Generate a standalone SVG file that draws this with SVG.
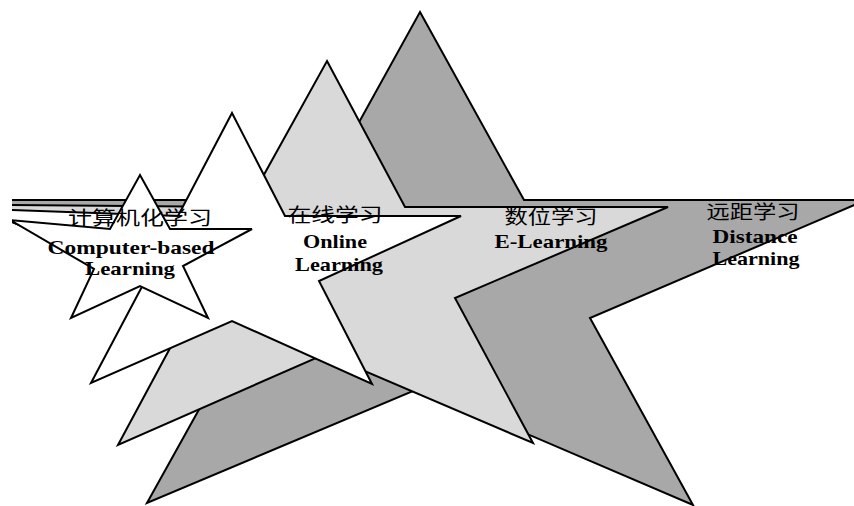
<svg xmlns="http://www.w3.org/2000/svg" width="854" height="506" viewBox="0 0 854 506">
<defs>
<clipPath id="edge"><rect x="12" y="0" width="842" height="506"/></clipPath>
</defs>
<style>
.star{stroke:#000;stroke-width:2;stroke-linejoin:miter;stroke-miterlimit:4}
.s4{fill:#a8a8a8}
.s3{fill:#d9d9d9}
.s2,.s1{fill:#fff}
.cn{font-family:"Noto Sans CJK SC","Noto Sans CJK TC",sans-serif;font-size:19px;fill:#000;text-anchor:middle}
.en{font-family:"Liberation Serif","DejaVu Serif",serif;font-weight:bold;font-size:19px;fill:#000;text-anchor:middle}
</style>
<rect x="0" y="0" width="854" height="506" fill="#fff"/>
<g id="connectors"></g>
<g id="distance-learning">
<polygon class="star s4" clip-path="url(#edge)" points="420,12 524,200 866,200 590,318 693,505 420,388 147,503 251,316 10,221 10,200 316,200"/>
<text class="cn" x="753" y="219" textLength="93" lengthAdjust="spacingAndGlyphs">远距学习</text>
<text class="en" x="755" y="243" textLength="85" lengthAdjust="spacingAndGlyphs">Distance</text>
<text class="en" x="756" y="265" textLength="87" lengthAdjust="spacingAndGlyphs">Learning</text>
</g>
<g id="e-learning">
<polygon class="star s3" clip-path="url(#edge)" points="327,61 405,207 668,207 455,298 533,443 325,354 118,445 197,298 10,221 10,205 246,207"/>
<text class="cn" x="551" y="224" textLength="93" lengthAdjust="spacingAndGlyphs">数位学习</text>
<text class="en" x="551" y="248" textLength="113" lengthAdjust="spacingAndGlyphs">E-Learning</text>
</g>
<g id="online-learning">
<polygon class="star s2" clip-path="url(#edge)" points="232,113 285,216 461,216 319,281 372,384 232,321 91,383 145,281 10,221 10,210 178,216"/>
<text class="cn" x="335" y="222" textLength="95" lengthAdjust="spacingAndGlyphs">在线学习</text>
<text class="en" x="335" y="248" textLength="64" lengthAdjust="spacingAndGlyphs">Online</text>
<text class="en" x="339" y="271" textLength="88" lengthAdjust="spacingAndGlyphs">Learning</text>
</g>
<g id="computer-based-learning">
<polygon class="star s1" clip-path="url(#edge)" points="140,175 170,229 252,229 183,266 208,318 140,286 71,318 94,269 10,220 110,229"/>
<text class="cn" x="140" y="225" textLength="144" lengthAdjust="spacingAndGlyphs">计算机化学习</text>
<text class="en" x="131" y="254" textLength="167" lengthAdjust="spacingAndGlyphs">Computer-based</text>
<text class="en" x="130" y="275" textLength="90" lengthAdjust="spacingAndGlyphs">Learning</text>
</g>
</svg>
